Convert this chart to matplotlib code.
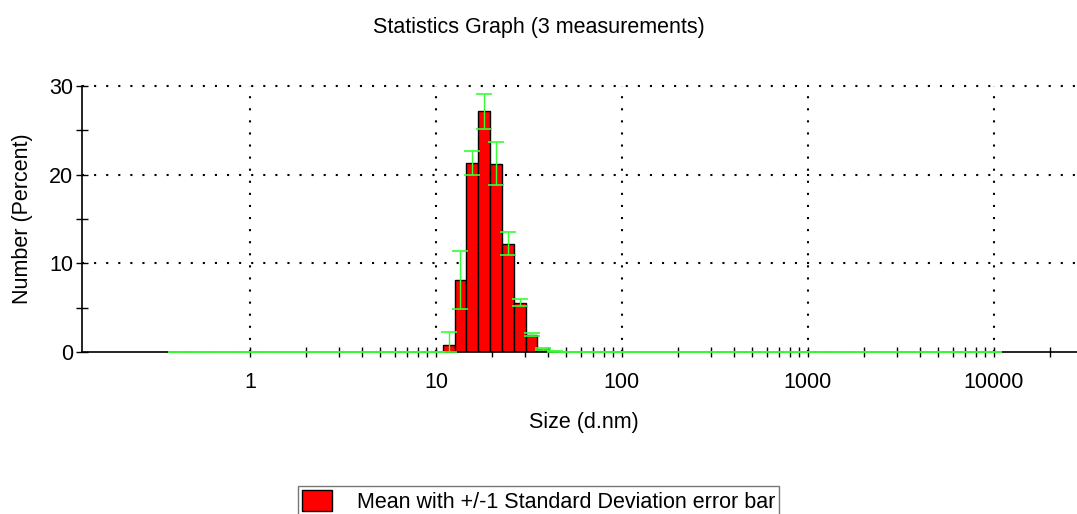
import numpy as np
import matplotlib.pyplot as plt
from matplotlib.patches import Patch

plt.rcParams['font.family'] = ['Liberation Sans', 'DejaVu Sans']

# size classes (d.nm) of the instrument, 70 bins from 0.4 to 10000
sizes = [0.4000, 0.4632, 0.5365, 0.6213, 0.7195, 0.8332, 0.9649, 1.117, 1.294, 1.499,
         1.736, 2.010, 2.328, 2.696, 3.122, 3.615, 4.187, 4.849, 5.615, 6.503,
         7.531, 8.721, 10.10, 11.70, 13.54, 15.69, 18.17, 21.04, 24.36, 28.21,
         32.67, 37.84, 43.82, 50.75, 58.77, 68.06, 78.82, 91.28, 105.7, 122.4,
         141.8, 164.2, 190.1, 220.2, 255.0, 295.3, 342.0, 396.1, 458.7, 531.2,
         615.1, 712.4, 825.0, 955.4, 1106, 1281, 1484, 1718, 1990, 2305,
         2669, 3091, 3580, 4145, 4801, 5560, 6439, 7456, 8635, 10000]

# mean number % over 3 measurements and its standard deviation
number_mean = ([0.0] * 23
               + [0.83, 8.15, 21.35, 27.15, 21.25, 12.2, 5.55, 1.95, 0.35, 0.08]
               + [0.0] * 37)
number_sd = ([0.0] * 23
             + [1.42, 3.25, 1.37, 1.95, 2.38, 1.3, 0.41, 0.19, 0.08, 0.05]
             + [0.0] * 37)

title = 'Statistics Graph (3 measurements)'
legend_label = 'Mean with +/-1 Standard Deviation error bar'

sizes = np.array(sizes)
mean = np.array(number_mean)
sd = np.array(number_sd)

# bar edges halfway (in log space) between neighbouring size classes
mids = np.sqrt(sizes[:-1] * sizes[1:])
step = sizes[1] / sizes[0]
edges = np.concatenate([[sizes[0] / np.sqrt(step)], mids, [sizes[-1] * np.sqrt(step)]])
lefts = edges[:-1]
widths = edges[1:] - edges[:-1]

fs = 15.5

fig = plt.figure(figsize=(10.77, 5.14), dpi=100)
ax = fig.add_axes([82 / 1077, 162 / 514, 995 / 1077, 266 / 514])

ax.set_xscale('log')
ax.set_xlim(0.125, 28000)
ax.set_ylim(0, 30)

# dotted grid
dots = (0, (1, 4.8))
for v in [1, 10, 100, 1000, 10000]:
    ax.axvline(v, color='black', lw=1.5, ls=dots, zorder=1)
for v in [10, 20, 30]:
    ax.axhline(v, color='black', lw=1.5, ls=dots, zorder=1, clip_on=False)

nz = mean > 0
ax.bar(lefts[nz], mean[nz], width=widths[nz], align='edge',
       color='#ff0000', edgecolor='black', linewidth=1, zorder=2)

lower = np.minimum(sd, mean)
ax.errorbar(sizes, mean, yerr=[lower, sd], fmt='none', ecolor='#33ff33',
            elinewidth=1, capsize=6, capthick=1.2, zorder=4, clip_on=False)

for s in ['top', 'right']:
    ax.spines[s].set_visible(False)
for s in ['left', 'bottom']:
    ax.spines[s].set_linewidth(1.2)

ax.set_xticks([1, 10, 100, 1000, 10000])
ax.set_xticklabels(['1', '10', '100', '1000', '10000'])
minor_x = [m * 10 ** e for e in range(0, 5) for m in range(2, 10) if m * 10 ** e < 28000]
ax.set_xticks(minor_x, minor=True)
ax.set_yticks([0, 10, 20, 30])
ax.set_yticks([5, 15, 25], minor=True)

ax.tick_params(axis='x', which='both', direction='inout', length=7, width=1,
               labelsize=fs, pad=11)
ax.tick_params(axis='y', which='both', direction='inout', length=9, width=1,
               labelsize=fs, pad=2)

ax.set_xlabel('Size (d.nm)', fontsize=fs)
ax.xaxis.set_label_coords(0.5045, -0.225)
ax.set_ylabel('Number (Percent)', fontsize=fs)
ax.yaxis.set_label_coords(-0.049, 0.5)

fig.text(0.5, 1 - 28 / 514, title, ha='center', va='center', fontsize=fs)

handle = Patch(facecolor='#ff0000', edgecolor='black', linewidth=1)
leg = fig.legend(handles=[handle], labels=[legend_label], loc='upper center',
                 bbox_to_anchor=(0.5, 1 - 486 / 514), fontsize=fs, frameon=True,
                 fancybox=False, edgecolor='#555555', handlelength=1.4,
                 handleheight=1.1, handletextpad=1.15, borderpad=0.2,
                 borderaxespad=0)
leg.get_frame().set_linewidth(1)

fig.savefig('out.png', dpi=100)
